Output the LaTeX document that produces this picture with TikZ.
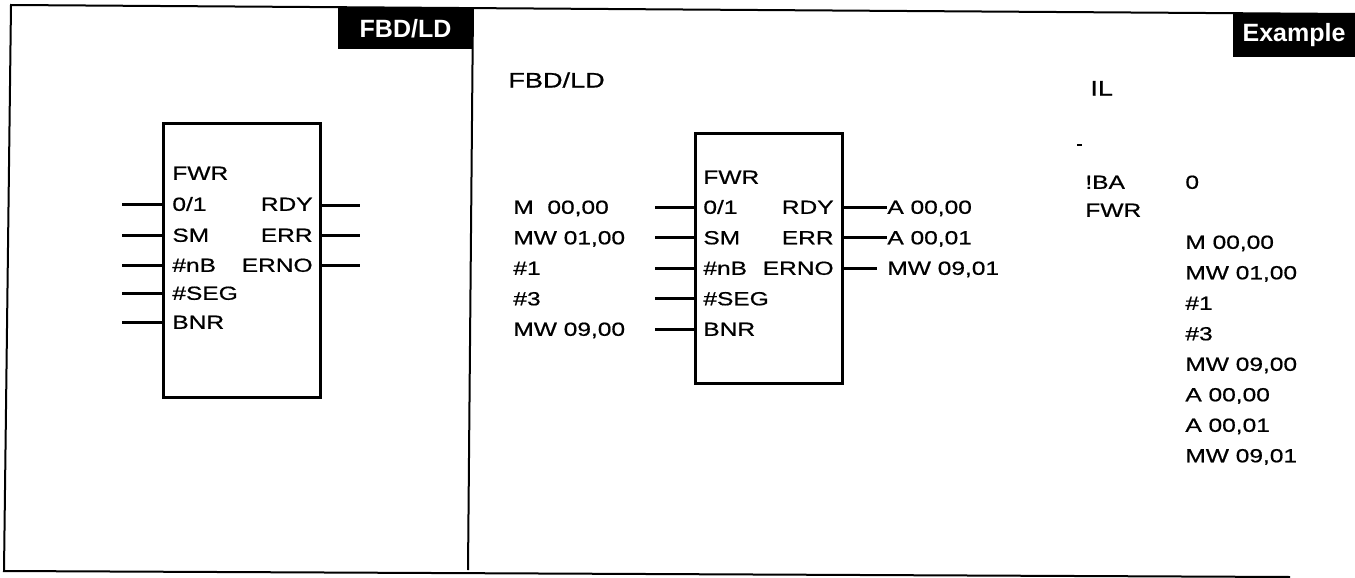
\documentclass[tikz,border=0pt]{standalone}
\usepackage{fontspec}
\setmainfont{Liberation Sans}
\newfontfamily\scanfont[FakeStretch=1.29,FakeBold=0.7]{Liberation Sans}
\usepackage{tikz}
\usetikzlibrary{positioning}

\begin{document}
\begin{tikzpicture}[
    x=0.5pt,
    y=-0.5pt,
    frameline/.style={
        line width=1pt
    },
    pinline/.style={
        line width=1.5pt
    },
    fblock/.style={
        draw,
        rectangle,
        line width=1.5pt,
        inner sep=0pt,
        outer sep=0pt
    },
    tablabel/.style={
        fill=black,
        text=white,
        inner sep=0pt,
        font=\bfseries\fontsize{12.5}{14}\selectfont
    },
    heading/.style={
        anchor=base west,
        inner sep=0pt,
        font=\scanfont\fontsize{10.5}{12}\selectfont
    },
    portlabel/.style={
        anchor=base west,
        inner sep=0pt,
        font=\scanfont\fontsize{9.5}{11}\selectfont
    },
    portlabelr/.style={
        anchor=base east,
        inner sep=0pt,
        font=\scanfont\fontsize{9.5}{11}\selectfont
    }
]
\useasboundingbox (0,0) rectangle (1355,578);

% ============================================================
% Frame
% ============================================================
\coordinate (fr-tl) at (11,5);
\coordinate (fr-tr) at (1355,14);
\coordinate (fr-bl) at (4,571);
\coordinate (fr-br) at (1290,577);
\coordinate (fr-dt) at (473,8);
\coordinate (fr-db) at (468,570);

\draw[frameline] (fr-tr) -- (fr-tl) -- (fr-bl) -- (fr-br);
\draw[frameline] (fr-dt) -- (fr-db);

\node[tablabel, minimum width=67.5pt, minimum height=20.5pt]
    (tab-fbd) at (405.5,28.5) {FBD/LD};
\node[tablabel, minimum width=61pt, minimum height=21.5pt]
    (tab-ex) at (1294,35.5) {Example};


% ============================================================
% Left panel: general FWR block
% ============================================================
\node[fblock, minimum width=78.5pt, minimum height=137pt]
    (gen-box) at (241.5,260) {};

\node[portlabel] (gen-name) at (172,179.8) {FWR};
\node[portlabel] (gen-in1)  at (172,210.8) {0/1};
\node[portlabel] (gen-in2)  at (172,241.8) {SM};
\node[portlabel] (gen-in3)  at (172,271.8) {\#nB};
\node[portlabel] (gen-in4)  at (172,299.8) {\#SEG};
\node[portlabel] (gen-in5)  at (172,328.8) {BNR};

\node[portlabelr] (gen-out1) at (313,210.8) {RDY};
\node[portlabelr] (gen-out2) at (313,241.8) {ERR};
\node[portlabelr] (gen-out3) at (313,271.8) {ERNO};

% pin ends
\coordinate (gen-i1) at (122,204);
\coordinate (gen-i2) at (122,235);
\coordinate (gen-i3) at (122,265);
\coordinate (gen-i4) at (122,293);
\coordinate (gen-i5) at (122,322);
\coordinate (gen-o1) at (360,205);
\coordinate (gen-o2) at (360,235);
\coordinate (gen-o3) at (360,265);

\draw[pinline] (gen-i1) -- (gen-i1 -| gen-box.west);
\draw[pinline] (gen-i2) -- (gen-i2 -| gen-box.west);
\draw[pinline] (gen-i3) -- (gen-i3 -| gen-box.west);
\draw[pinline] (gen-i4) -- (gen-i4 -| gen-box.west);
\draw[pinline] (gen-i5) -- (gen-i5 -| gen-box.west);
\draw[pinline] (gen-box.east |- gen-o1) -- (gen-o1);
\draw[pinline] (gen-box.east |- gen-o2) -- (gen-o2);
\draw[pinline] (gen-box.east |- gen-o3) -- (gen-o3);


% ============================================================
% Right panel: FBD/LD example
% ============================================================
\node[heading] (ex-fbd) at (508,87.5) {FBD/LD};

\node[fblock, minimum width=73.5pt, minimum height=125pt]
    (ex-box) at (768.5,258) {};

\node[portlabel] (ex-name) at (703,183.8) {FWR};
\node[portlabel] (ex-in1)  at (703,213.8) {0/1};
\node[portlabel] (ex-in2)  at (703,244.3) {SM};
\node[portlabel] (ex-in3)  at (703,274.8) {\#nB};
\node[portlabel] (ex-in4)  at (703,305.3) {\#SEG};
\node[portlabel] (ex-in5)  at (703,335.8) {BNR};

\node[portlabelr] (ex-out1) at (834,213.8) {RDY};
\node[portlabelr] (ex-out2) at (834,244.3) {ERR};
\node[portlabelr] (ex-out3) at (834,274.8) {ERNO};

% operands
\node[portlabel] (ex-op1) at (513,213.8) {M\ \ 00,00};
\node[portlabel] (ex-op2) at (513,244.3) {MW 01,00};
\node[portlabel] (ex-op3) at (513,274.8) {\#1};
\node[portlabel] (ex-op4) at (513,305.3) {\#3};
\node[portlabel] (ex-op5) at (513,335.8) {MW 09,00};

\node[portlabel] (ex-res1) at (887,213.8) {A 00,00};
\node[portlabel] (ex-res2) at (887,244.3) {A 00,01};
\node[portlabel] (ex-res3) at (887,274.8) {MW 09,01};

% pin ends
\coordinate (ex-i1) at (655,207);
\coordinate (ex-i2) at (655,237.5);
\coordinate (ex-i3) at (655,268);
\coordinate (ex-i4) at (655,298.5);
\coordinate (ex-i5) at (655,329);

\draw[pinline] (ex-i1) -- (ex-i1 -| ex-box.west);
\draw[pinline] (ex-i2) -- (ex-i2 -| ex-box.west);
\draw[pinline] (ex-i3) -- (ex-i3 -| ex-box.west);
\draw[pinline] (ex-i4) -- (ex-i4 -| ex-box.west);
\draw[pinline] (ex-i5) -- (ex-i5 -| ex-box.west);
\draw[pinline] (ex-box.east |- ex-i1) -- (ex-res1.west |- ex-i1);
\draw[pinline] (ex-box.east |- ex-i2) -- (ex-res2.west |- ex-i2);
\draw[pinline] (ex-box.east |- ex-i3) -- ([xshift=-5]ex-res3.west |- ex-i3);


% ============================================================
% Right panel: IL example
% ============================================================
\node[heading] (il-head) at (1090,95.5) {IL};

\coordinate (il-mark) at (1077,145);
\draw[line width=1pt] (il-mark) -- ++(5,0);

\node[portlabel] (il-ba)   at (1085,188.8) {!BA};
\node[portlabel] (il-zero) at (1185,188.8) {0};
\node[portlabel] (il-fwr)  at (1085,216.8) {FWR};

\node[portlabel] (il-op1) at (1185,248.8) {M 00,00};
\node[portlabel] (il-op2) at (1185,279.3) {MW 01,00};
\node[portlabel] (il-op3) at (1185,309.8) {\#1};
\node[portlabel] (il-op4) at (1185,340.3) {\#3};
\node[portlabel] (il-op5) at (1185,370.8) {MW 09,00};
\node[portlabel] (il-op6) at (1185,401.3) {A 00,00};
\node[portlabel] (il-op7) at (1185,431.8) {A 00,01};
\node[portlabel] (il-op8) at (1185,462.3) {MW 09,01};

\end{tikzpicture}
\end{document}
